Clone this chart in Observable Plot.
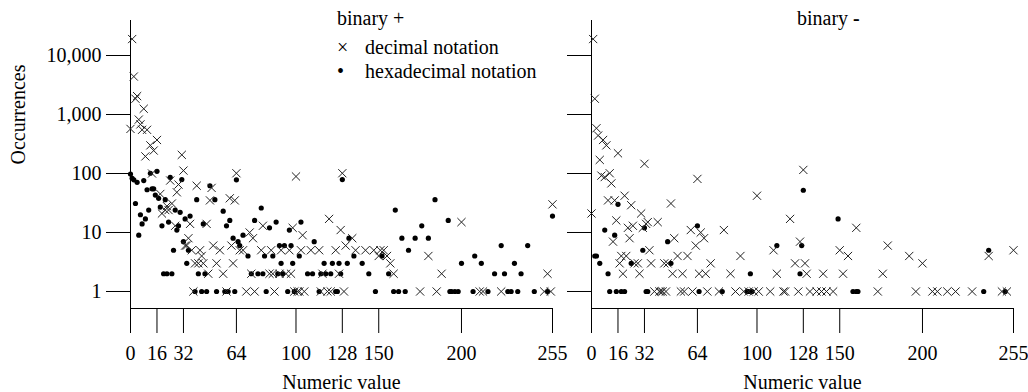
<!DOCTYPE html>
<html><head><meta charset="utf-8">
<script src="https://cdn.jsdelivr.net/npm/d3@7"></script>
<script src="https://cdn.jsdelivr.net/npm/@observablehq/plot@0.6"></script>
<style>
html,body{margin:0;padding:0;background:#fff;}
#wrap{position:relative;width:1028px;height:392px;display:flex;font-family:'Liberation Serif',Tinos,'Times New Roman','DejaVu Serif',serif;}
#wrap svg{overflow:visible;}
#wrap svg text{font-family:'Liberation Serif',Tinos,'Times New Roman','DejaVu Serif',serif;}
.lg{position:absolute;font-size:20px;line-height:20px;white-space:nowrap;color:#000;}
</style></head><body><div id="wrap"></div>
<script>
const xTicks = [0, 16, 32, 64, 100, 128, 150, 200, 255];
const yTicks = [1, 10, 100, 1000, 10000];
const panelTitles = ["binary +", "binary "];
const seriesNames = ["decimal notation", "hexadecimal notation"];

// [numeric value, occurrences]
const plusDecimal = [[0,570],[1,19000],[2,4400],[3,1850],[4,2050],[5,820],[6,680],[7,550],[8,1250],[9,195],[10,550],[12,300],[13,100],[14,245],[16,370],[18,45],[19,21],[21,24],[22,28],[23,24],[24,76],[25,31],[27,13],[28,48],[29,65],[31,207],[32,112],[33,6],[34,6],[35,8],[36,14],[37,5],[38,1],[39,3],[40,62],[41,3],[42,5],[43,4],[44,3],[46,14],[47,2],[48,35],[49,57],[50,6],[52,3],[54,5],[56,2],[58,1],[60,38],[61,6],[62,3],[63,35],[64,101],[66,5],[68,5],[70,1],[72,10],[73,2],[74,8],[75,1],[79,5],[80,13],[84,2],[85,5],[86,2],[87,1],[90,2],[91,5],[94,2],[96,5],[97,2],[98,12],[99,1],[100,89],[101,1],[102,1],[103,5],[104,9],[105,1],[109,5],[114,5],[115,1],[116,2],[119,1],[120,17],[121,1],[124,5],[126,2],[127,11],[128,101],[129,1],[130,6],[134,8],[136,5],[142,5],[147,5],[150,4],[151,5],[153,5],[155,4],[157,3],[159,2],[175,1],[180,4],[185,1],[188,2],[200,15],[211,1],[213,1],[224,1],[250,1],[252,2],[254,1],[255,30]];
const plusHex = [[0,98],[1,83],[2,78],[3,31],[4,71],[5,9],[6,20],[7,14],[8,76],[9,17],[10,53],[11,24],[12,101],[13,55],[14,55],[15,43],[16,109],[17,38],[18,27],[19,13],[20,2],[21,36],[22,2],[23,15],[24,86],[25,2],[26,5],[27,24],[28,11],[29,13],[30,22],[31,79],[32,7],[33,17],[34,3],[35,5],[36,19],[39,1],[40,36],[41,2],[43,1],[44,14],[45,2],[46,1],[48,62],[51,36],[52,1],[56,23],[57,1],[58,13],[59,1],[60,16],[62,8],[63,1],[64,78],[65,7],[66,6],[68,9],[71,4],[73,2],[75,16],[77,2],[79,26],[80,2],[81,4],[82,1],[84,12],[86,4],[88,15],[89,2],[90,6],[91,3],[92,2],[93,6],[95,1],[96,11],[97,6],[98,3],[99,1],[102,4],[103,15],[107,2],[110,2],[111,7],[114,1],[115,2],[117,3],[118,2],[121,2],[122,3],[124,1],[125,1],[126,3],[127,2],[128,79],[131,3],[132,8],[135,4],[140,3],[144,2],[148,1],[152,4],[156,2],[159,1],[160,24],[162,1],[164,8],[166,1],[168,5],[172,8],[176,13],[180,8],[184,36],[192,16],[193,1],[194,1],[196,1],[198,1],[200,3],[207,1],[208,4],[212,3],[216,1],[220,2],[224,6],[226,2],[228,1],[230,1],[232,3],[234,1],[236,2],[240,6],[244,1],[252,1],[255,19]];
const minusDecimal = [[0,21],[1,19000],[2,1850],[3,585],[4,440],[5,170],[6,92],[7,370],[8,87],[9,300],[10,35],[11,101],[12,68],[13,7],[14,35],[15,16],[16,220],[17,3],[18,4],[19,2],[20,42],[21,4],[22,12],[23,8],[24,29],[25,13],[26,3],[28,3],[29,2],[30,21],[31,12],[32,146],[33,14],[34,15],[35,5],[36,3],[38,1],[40,15],[41,1],[42,1],[43,1],[44,3],[45,1],[46,3],[48,31],[49,2],[50,8],[52,4],[54,1],[55,2],[56,1],[58,4],[60,11],[61,1],[63,6],[64,81],[65,2],[66,10],[68,8],[69,2],[70,1],[72,3],[77,1],[80,11],[84,2],[87,1],[90,4],[92,1],[95,1],[98,1],[100,42],[101,1],[108,1],[110,5],[112,2],[116,1],[117,1],[120,17],[123,3],[125,1],[126,7],[128,115],[129,3],[130,2],[132,1],[136,1],[139,1],[140,2],[142,1],[146,1],[150,5],[152,2],[155,4],[160,12],[173,1],[176,2],[179,6],[192,4],[196,1],[200,3],[206,1],[209,1],[215,1],[220,1],[230,1],[240,4],[248,1],[251,1],[255,5]];
const minusHex = [[2,4],[3,4],[5,3],[8,11],[10,2],[11,1],[14,9],[15,1],[16,30],[18,1],[20,1],[24,3],[31,5],[32,12],[33,1],[34,1],[46,7],[48,3],[64,13],[65,1],[79,1],[94,1],[95,1],[96,2],[97,1],[112,6],[126,2],[127,6],[128,52],[149,17],[158,1],[160,1],[161,1],[237,1],[240,5],[250,1]];

const yDomain = [0.515, 39200];
const font = "'Liberation Serif',Tinos,'Times New Roman','DejaVu Serif',serif";

function panel(dec, hex, o) {
  const marks = [
    Plot.ruleX([0], {stroke: "black"}),
    Plot.ruleY([yDomain[0]], {stroke: "black"}),
    Plot.axisX({ticks: xTicks, tickSize: 25, tickPadding: 12, label: null, stroke: "black"}),
    Plot.axisY({ticks: yTicks, tickSize: 24, tickPadding: 5, label: null, stroke: "black",
      tickFormat: o.yLabels ? d3.format(",") : () => ""}),
    Plot.dot(hex, {x: d => d[0], y: d => d[1], r: 2.6, fill: "black", stroke: "none"}),
    Plot.dot(dec, {x: d => d[0], y: d => d[1], symbol: "times", r: 3.8, stroke: "#222", strokeWidth: 1}),
    Plot.text(["Numeric value"], {text: d => d, frameAnchor: "bottom", dy: 80})
  ];
  if (o.yLabels) marks.push(Plot.text(["Occurrences"], {text: d => d, frameAnchor: "left", dx: -112, rotate: -90}));
  return Plot.plot({
    width: o.width, height: 392,
    marginLeft: o.ml, marginRight: o.mr, marginTop: 20, marginBottom: 84,
    style: {fontFamily: font, fontSize: "20px", background: "none", color: "black", overflow: "visible"},
    x: {domain: [0, 255]},
    y: {type: "log", domain: yDomain},
    marks
  });
}

const wrap = document.getElementById("wrap");
wrap.appendChild(panel(plusDecimal, plusHex, {width: 561, ml: 130, mr: 9, yLabels: true}));
wrap.appendChild(panel(minusDecimal, minusHex, {width: 467, ml: 30, mr: 15, yLabels: false}));

function lg(html, left, top) {
  const d = document.createElement("div");
  d.className = "lg"; d.style.left = left + "px"; d.style.top = top + "px";
  d.innerHTML = html; wrap.appendChild(d);
}
lg(panelTitles[0], 337, 8);
lg("×", 337, 37);
lg(seriesNames[0], 365, 37);
lg("•", 337, 61);
lg(seriesNames[1], 365, 61);
lg(panelTitles[1] + "<b>-</b>", 797, 8);
</script></body></html>
